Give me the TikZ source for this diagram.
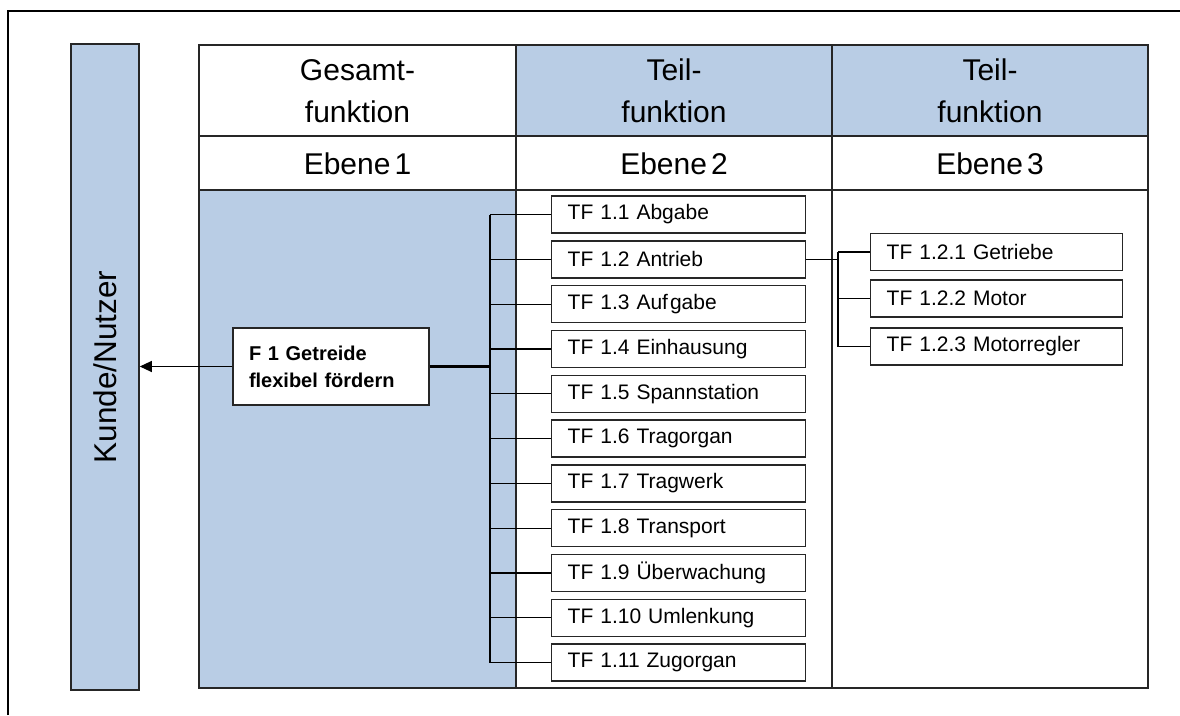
\documentclass[tikz,border=0pt]{standalone}
\usepackage{fontspec}
\setmainfont{Liberation Sans}
\usetikzlibrary{arrows.meta}
\definecolor{lblue}{RGB}{185,205,229}
\begin{document}
\begin{tikzpicture}[x=1pt,y=-1pt,
  grid/.style={line width=1.6pt,draw=black!85},
  tfbox/.style={draw=black!85,line width=1.4pt,fill=white,anchor=west,inner xsep=16pt,inner ysep=0pt,
    text width=222pt,align=left,minimum height=37pt,font=\fontsize{21}{24}\selectfont},
  subbox/.style={tfbox,text width=220pt},
  head/.style={align=center,font=\fontsize{30}{42}\selectfont},
  conn/.style={line width=1.2pt,draw=black}]
\useasboundingbox (0,0) rectangle (1180,715);
% outer frame (top and left only)
\draw[line width=2.5pt] (8,715) -- (8,11) -- (1180,11);
% Kunde/Nutzer bar
\node[draw=black!85,line width=1.6pt,fill=lblue,minimum width=68pt,minimum height=646pt,inner sep=0pt] (kunde) at (105,367) {};
\node[rotate=90,font=\fontsize{31.5}{36}\selectfont] (kundetext) at (kunde.center) {Kunde/Nutzer};
% table fills
\fill[lblue] (199,190) rectangle (516,688);
\fill[lblue] (516,45) rectangle (1148,136);
% table grid
\draw[grid] (199,45) rectangle (1148,688);
\draw[grid] (199,136) -- (1148,136);
\draw[grid] (199,190) -- (1148,190);
\draw[grid] (516,45) -- (516,688);
\draw[grid] (832,45) -- (832,688);
% headers
\node[head] (h1) at (357.5,91) {Gesamt-\\funktion};
\node[head] (h2) at (674,91) {Teil-\\funktion};
\node[head] (h3) at (990,91) {Teil-\\funktion};
\node[head] (e1) at (357.5,164) {Ebene\kern4pt 1};
\node[head] (e2) at (674,164) {Ebene\kern4pt 2};
\node[head] (e3) at (990,164) {Ebene\kern4pt 3};
% F1 box
\node[draw=black!85,line width=1.4pt,fill=white,minimum width=196pt,minimum height=77pt,inner xsep=16pt,
  text width=164pt,align=left,font=\bfseries\fontsize{20}{27}\selectfont] (f1) at (331,366.5)
  {F 1 Getreide\\flexibel fördern};
% TF boxes
\node[tfbox] (tf1) at (551,214.5) {TF 1.1 Abgabe};
\node[tfbox] (tf2) at (551,259.3) {TF 1.2 Antrieb};
\node[tfbox] (tf3) at (551,304.1) {TF 1.3 Auf\kern2pt gabe};
\node[tfbox] (tf4) at (551,348.9) {TF 1.4 Einhausung};
\node[tfbox] (tf5) at (551,393.7) {TF 1.5 Spannstation};
\node[tfbox] (tf6) at (551,438.5) {TF 1.6 Tragorgan};
\node[tfbox] (tf7) at (551,483.3) {TF 1.7 Tragwerk};
\node[tfbox] (tf8) at (551,528.1) {TF 1.8 Transport};
\node[tfbox] (tf9) at (551,572.9) {TF 1.9 Überwachung};
\node[tfbox] (tf10) at (551,617.7) {TF 1.10 Umlenkung};
\node[tfbox] (tf11) at (551,662.5) {TF 1.11 Zugorgan};
% level 3 boxes
\node[subbox] (g1) at (870,252) {TF 1.2.1 Getriebe};
\node[subbox] (g2) at (870,298.5) {TF 1.2.2 Motor};
\node[subbox] (g3) at (870,346.5) {TF 1.2.3 Motorregler};
% connectors level 1 -> 2
\coordinate (tx) at (490,0);
\draw[conn] (tf1.west -| tx) -- (tf11.west -| tx);
\foreach \i in {1,...,11} {\draw[conn] (tf\i.west) -- (tf\i.west -| tx);}
\draw[line width=2.2pt] (f1.east) -- (f1.east -| tx);
% arrow to Kunde
\draw[line width=1.2pt,-{Triangle[length=12pt,width=11pt]}] (f1.west) -- (f1.west -| kunde.east);
% connectors level 2 -> 3
\coordinate (ux) at (838,0);
\draw[conn] (tf2.east) -- (tf2.east -| ux);
\draw[conn] (g1.west -| ux) -- (g3.west -| ux);
\foreach \j in {1,2,3} {\draw[conn] (g\j.west) -- (g\j.west -| ux);}
\end{tikzpicture}
\end{document}
